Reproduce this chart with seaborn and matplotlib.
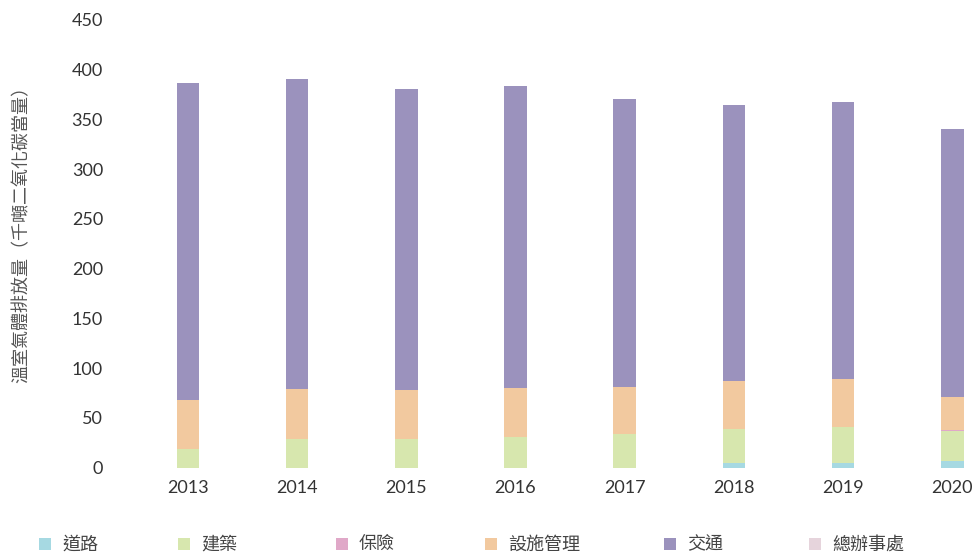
import matplotlib
matplotlib.use("Agg")
import matplotlib.pyplot as plt
from matplotlib.patches import Rectangle
import seaborn as sns
import pandas as pd
import numpy as np

# data (kt CO2e)
years = ["2013", "2014", "2015", "2016", "2017", "2018", "2019", "2020"]
categories = ["道路", "建築", "保險", "設施管理", "交通", "總辦事處"]
road = [0, 0, 0, 0, 0, 5, 5, 7]
building = [19, 29, 29, 31, 33.5, 34, 36, 30]
insurance = [0, 0, 0, 0, 0, 0, 0, 1]
facilities = [49, 50.5, 49, 49, 48, 48.5, 48.5, 33.5]
transport = [319, 311.5, 303, 304, 289, 277, 278, 269]
head_office = [0, 0, 0, 0, 0, 0, 0, 0]
yticks = [0, 50, 100, 150, 200, 250, 300, 350, 400, 450]

colors = ["#a6d9e2", "#d7e7ae", "#e0a8c8", "#f2c99f", "#9b92bd", "#e6d4dc"]

sns.set_style("white")
plt.rcParams["font.family"] = ["Lato", "Noto Sans CJK TC", "DejaVu Sans"]

series = [road, building, insurance, facilities, transport, head_office]
df = pd.DataFrame({"year": np.repeat([years], len(categories), axis=0).ravel(),
                   "category": np.repeat(categories, len(years)),
                   "value": np.concatenate(series)})

W, H = 974, 554
fig = plt.figure(figsize=(W / 100, H / 100), dpi=100)
left_px, right_px, top_px, bottom_px = 115, 974, 20, 467.7
ax = fig.add_axes([left_px / W, 1 - bottom_px / H,
                   (right_px - left_px) / W, (bottom_px - top_px) / H])

# stacked bars: one barplot per category on top of the running total
bottom = np.zeros(len(years))
for cat, col in zip(categories, colors):
    vals = df[df["category"] == cat]["value"].to_numpy()
    sns.barplot(x=years, y=vals, bottom=bottom, color=col, width=0.207,
                linewidth=0, saturation=1, ax=ax, order=years)
    bottom = bottom + vals

ax.set_xlim(-0.668, 7.199)
ax.set_ylim(0, 450)
ax.set_yticks(yticks)
sns.despine(ax=ax, left=True, bottom=True)
ax.tick_params(axis="both", length=0, labelsize=13, colors="#333333")
ax.tick_params(axis="y", pad=8.6)
ax.tick_params(axis="x", pad=8.5)
ax.set_xlabel("")
ax.set_ylabel("溫室氣體排放量（千噸二氧化碳當量）", fontsize=13, color="#555555")
ax.yaxis.set_label_coords(-0.1, 0.53)

# legend
sq_x = [39, 178, 336, 485, 664, 809]
for x0, cat, col in zip(sq_x, categories, colors):
    fig.add_artist(Rectangle((x0 / W, 1 - 550 / H), 12 / W, 12 / H,
                             transform=fig.transFigure, color=col, lw=0))
    fig.text((x0 + 23) / W, 1 - 544 / H, cat, fontsize=13, color="#444444",
             va="center", ha="left")

fig.savefig("out.png", dpi=100)
